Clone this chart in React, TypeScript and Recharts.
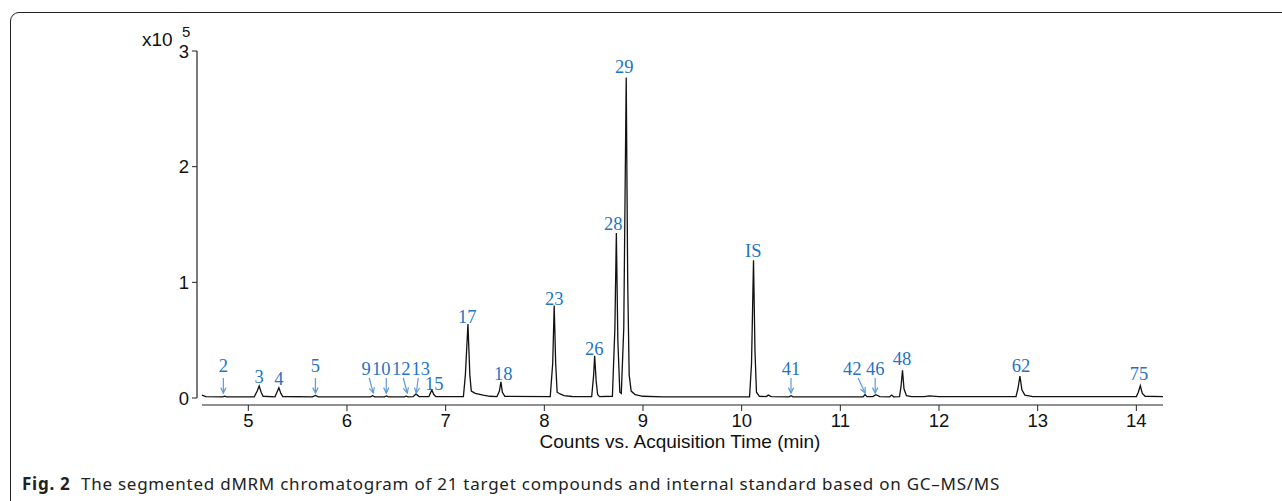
import { ComposedChart, Line, Scatter, XAxis, YAxis, ReferenceLine } from 'recharts';

// chromatogram trace: [time (min), counts x10^5]
const trace: [number, number][] = [
  [4.53, 0.025], [4.57, 0.012], [4.74, 0.01], [4.76, 0.016], [4.78, 0.01],
  [5.06, 0.01], [5.09, 0.06], [5.11, 0.104], [5.13, 0.05], [5.15, 0.015],
  [5.27, 0.01], [5.29, 0.05], [5.31, 0.088], [5.33, 0.04], [5.35, 0.013],
  [5.65, 0.01], [5.68, 0.022], [5.71, 0.01],
  [6.24, 0.01], [6.26, 0.02], [6.28, 0.01], [6.38, 0.01], [6.4, 0.018], [6.42, 0.01],
  [6.58, 0.01], [6.6, 0.016], [6.62, 0.01], [6.67, 0.012], [6.7, 0.035], [6.73, 0.013],
  [6.83, 0.012], [6.86, 0.07], [6.88, 0.03], [6.9, 0.013],
  [7.18, 0.012], [7.2, 0.2], [7.226, 0.64], [7.245, 0.2], [7.26, 0.06], [7.3, 0.04],
  [7.38, 0.025], [7.45, 0.015], [7.52, 0.012], [7.545, 0.06], [7.56, 0.14], [7.575, 0.05], [7.6, 0.015],
  [8.06, 0.012], [8.085, 0.3], [8.1, 0.8], [8.115, 0.3], [8.13, 0.05], [8.16, 0.035], [8.2, 0.02], [8.28, 0.013],
  [8.48, 0.012], [8.5, 0.2], [8.51, 0.365], [8.525, 0.15], [8.54, 0.03], [8.56, 0.012],
  [8.69, 0.015], [8.715, 0.6], [8.73, 1.426], [8.745, 0.5], [8.765, 0.05], [8.78, 0.04],
  [8.805, 0.6], [8.83, 2.77], [8.845, 1.0], [8.86, 0.2], [8.88, 0.06], [8.92, 0.03], [9.0, 0.015], [9.2, 0.01],
  [10.08, 0.01], [10.1, 0.3], [10.12, 1.19], [10.135, 0.4], [10.15, 0.05], [10.18, 0.015],
  [10.25, 0.012], [10.27, 0.025], [10.3, 0.012], [10.48, 0.01], [10.5, 0.02], [10.52, 0.01],
  [11.23, 0.01], [11.25, 0.03], [11.27, 0.012], [11.33, 0.012], [11.36, 0.028], [11.4, 0.012],
  [11.5, 0.01], [11.52, 0.025], [11.54, 0.01], [11.6, 0.012], [11.615, 0.1], [11.63, 0.24],
  [11.645, 0.08], [11.67, 0.02], [11.72, 0.012], [11.85, 0.012], [11.9, 0.018], [12.0, 0.012],
  [12.78, 0.012], [12.8, 0.08], [12.82, 0.19], [12.84, 0.07], [12.87, 0.025], [12.95, 0.012],
  [14.0, 0.012], [14.02, 0.05], [14.04, 0.107], [14.06, 0.04], [14.09, 0.015], [14.27, 0.012],
];

// peak labels: name, x position (min), level of text baseline
const labelNames = ['2', '3', '4', '5', '9', '10', '12', '13', '15', '17', '18', '23', '26', '28', '29', 'IS', '41', '42', '46', '48', '62', '75'];
const labelTimes = [4.747, 5.11, 5.31, 5.68, 6.194, 6.347, 6.55, 6.748, 6.885, 7.219, 7.584, 8.1, 8.506, 8.698, 8.81, 10.117, 10.5, 11.12, 11.353, 11.626, 12.832, 14.027];
const labelLevels = [0.225, 0.13, 0.112, 0.225, 0.2, 0.2, 0.2, 0.2, 0.07, 0.648, 0.156, 0.804, 0.372, 1.452, 2.81, 1.219, 0.2, 0.2, 0.2, 0.285, 0.225, 0.156];

// small peaks marked by arrows: where the arrow points
const arrowNames = ['2', '5', '9', '10', '12', '13', '41', '42', '46'];
const arrowTimes = [4.747, 5.68, 6.266, 6.398, 6.611, 6.702, 10.5, 11.251, 11.353];
const arrowLevel = 0.043;

const xTicks = [5, 6, 7, 8, 9, 10, 11, 12, 13, 14];
const yTicks = [0, 1, 2, 3];

// pixel lean of arrow tails
const arrowLean: Record<string, number> = { '9': -4, '12': -4, '13': 2, '42': -7 };

const traceData = trace.map(([t, v]) => ({ t, v }));
const labelData = labelNames.map((name, i) => ({ name, t: labelTimes[i], v: labelLevels[i] }));
const arrowData = arrowNames.map((name, i) => ({ name, t: arrowTimes[i], v: arrowLevel }));

const BLUE = '#1f74c4';
const ARROW = '#5d9ad6';
const SANS = '"Liberation Sans", Arial, Helvetica, sans-serif';

const LabelShape = (props: any) => {
  const { cx, cy, payload } = props;
  return (
    <text x={cx} y={cy} textAnchor="middle" fill={BLUE} fontSize={18.5}
      fontFamily='"Liberation Serif", "Times New Roman", serif'>
      {payload.name}
    </text>
  );
};

const ArrowShape = (props: any) => {
  const { cx, cy, payload } = props;
  const lean = arrowLean[payload.name] ?? 0;
  const x0 = cx + lean;
  const y0 = cy - 15;
  const ang = Math.atan2(cy - y0, cx - x0);
  const h = 6;
  const a1 = ang + Math.PI - 0.45;
  const a2 = ang + Math.PI + 0.45;
  return (
    <g stroke={ARROW} strokeWidth={1.2} fill="none">
      <line x1={x0} y1={y0} x2={cx} y2={cy} />
      <polyline points={`${cx + h * Math.cos(a1)},${cy + h * Math.sin(a1)} ${cx},${cy} ${cx + h * Math.cos(a2)},${cy + h * Math.sin(a2)}`} />
    </g>
  );
};

export default function App() {
  return (
    <div style={{ position: 'absolute', left: 0, top: 0, width: 1282, height: 501, overflow: 'hidden', background: '#fff' }}>
      <div style={{ position: 'absolute', left: 10, top: 12, width: 1320, height: 560, border: '1.5px solid #222', borderRadius: 9 }} />
      <div style={{ position: 'absolute', left: 142, top: 29, fontFamily: SANS, fontSize: 19, color: '#111' }}>x10</div>
      <div style={{ position: 'absolute', left: 182, top: 23, fontFamily: SANS, fontSize: 15, color: '#111' }}>5</div>
      <div style={{ position: 'absolute', left: 0, top: 0 }}>
        <ComposedChart width={1282} height={440} margin={{ top: 51, right: 119, bottom: 5, left: 157 }}>
          <XAxis type="number" dataKey="t" domain={[4.48, 14.27]} ticks={xTicks} allowDataOverflow
            axisLine={false} tickSize={6} tickLine={{ stroke: '#222' }} tickMargin={3}
            tick={{ fill: '#111', fontSize: 18.5, fontFamily: SANS }} height={30} />
          <YAxis type="number" dataKey="v" domain={[-0.0605, 3]} ticks={yTicks} allowDataOverflow
            axisLine={false} tickSize={5} tickLine={{ stroke: '#222' }} tickMargin={3}
            tick={{ fill: '#111', fontSize: 18.5, fontFamily: SANS }} width={40} />
          <ReferenceLine segment={[{ x: 4.48, y: 0 }, { x: 4.48, y: 3 }]} stroke="#222" strokeWidth={1.2} ifOverflow="visible" />
          <ReferenceLine segment={[{ x: 4.53, y: -0.0605 }, { x: 14.27, y: -0.0605 }]} stroke="#222" strokeWidth={1.2} ifOverflow="visible" />
          <Line data={traceData} dataKey="v" type="linear" stroke="#111" strokeWidth={1.3} dot={false} isAnimationActive={false} />
          <Scatter data={arrowData} dataKey="v" shape={ArrowShape} isAnimationActive={false} />
          <Scatter data={labelData} dataKey="v" shape={LabelShape} isAnimationActive={false} />
        </ComposedChart>
      </div>
      <div style={{ position: 'absolute', left: 0, width: 1360, top: 432, lineHeight: '20px', textAlign: 'center', fontFamily: SANS, fontSize: 19, color: '#111' }}>
        Counts vs. Acquisition Time (min)
      </div>
      <div style={{ position: 'absolute', left: 22, top: 472, fontFamily: '"Noto Sans", "Open Sans", sans-serif', fontSize: 17, letterSpacing: 0.75, color: '#222', whiteSpace: 'nowrap' }}>
        <b>Fig. 2</b>&nbsp; The segmented dMRM chromatogram of 21 target compounds and internal standard based on GC–MS/MS
      </div>
    </div>
  );
}
